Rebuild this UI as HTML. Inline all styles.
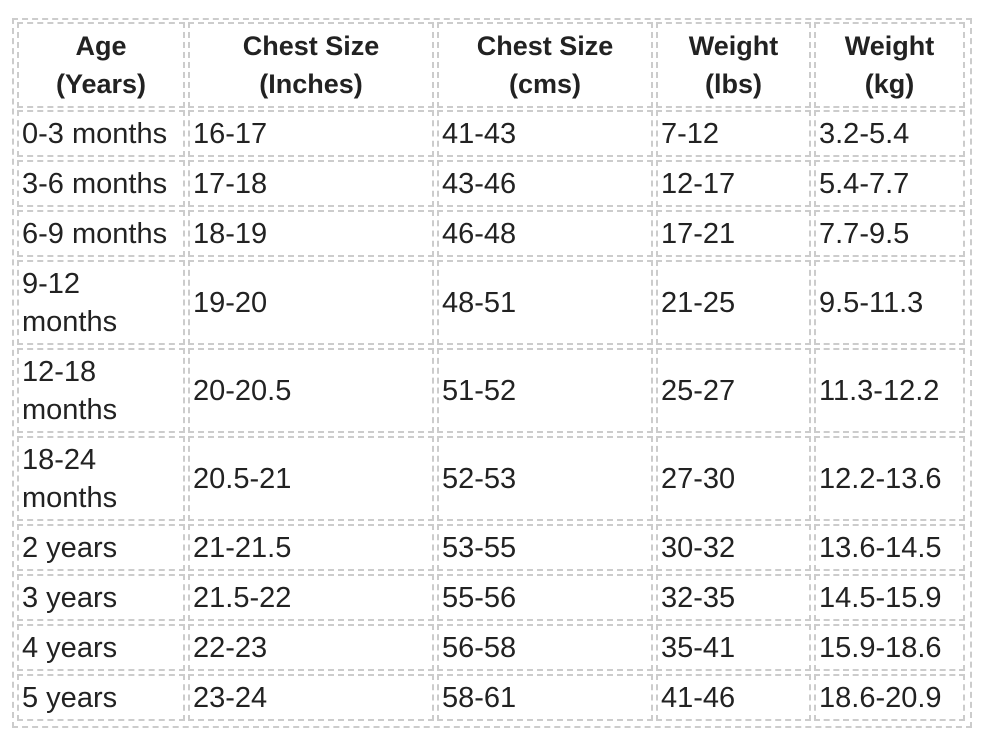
<!DOCTYPE html>
<html><head><style>
body{margin:0;background:#fff;width:991px;height:734px;position:relative;overflow:hidden;font-family:"Liberation Sans",sans-serif;color:#222;}
.o{position:absolute;left:12px;top:18px;width:956px;height:706px;border:2px dashed #ccc;}
.c{position:absolute;border:2px dashed #ccc;box-sizing:border-box;font-size:29px;line-height:38px;padding-left:3px;display:flex;align-items:center;white-space:nowrap;}
.h{font-weight:bold;justify-content:center;text-align:center;padding:0;font-size:27px;}
</style></head><body>
<div class="o"></div>
<div id="t"></div>
<script>
var xs=[[17,185],[188,434],[437,653],[656,811],[814,965]];
var ys=[[22,108],[110,157],[160,207],[210,257],[260,345],[348,433],[436,521],[524,571],[574,621],[624,671],[674,721]];
var d=[["Age<br>(Years)","Chest Size<br>(Inches)","Chest Size<br>(cms)","Weight<br>(lbs)","Weight<br>(kg)"],
["0-3 months","16-17","41-43","7-12","3.2-5.4"],
["3-6 months","17-18","43-46","12-17","5.4-7.7"],
["6-9 months","18-19","46-48","17-21","7.7-9.5"],
["9-12<br>months","19-20","48-51","21-25","9.5-11.3"],
["12-18<br>months","20-20.5","51-52","25-27","11.3-12.2"],
["18-24<br>months","20.5-21","52-53","27-30","12.2-13.6"],
["2 years","21-21.5","53-55","30-32","13.6-14.5"],
["3 years","21.5-22","55-56","32-35","14.5-15.9"],
["4 years","22-23","56-58","35-41","15.9-18.6"],
["5 years","23-24","58-61","41-46","18.6-20.9"]];
var h="";
for(var r=0;r<ys.length;r++)for(var c=0;c<5;c++){
h+='<div class="c'+(r==0?' h':'')+'" style="left:'+xs[c][0]+'px;top:'+ys[r][0]+'px;width:'+(xs[c][1]-xs[c][0])+'px;height:'+(ys[r][1]-ys[r][0])+'px"><span>'+d[r][c]+'</span></div>';}
document.getElementById("t").innerHTML=h;
</script>
</body></html>
